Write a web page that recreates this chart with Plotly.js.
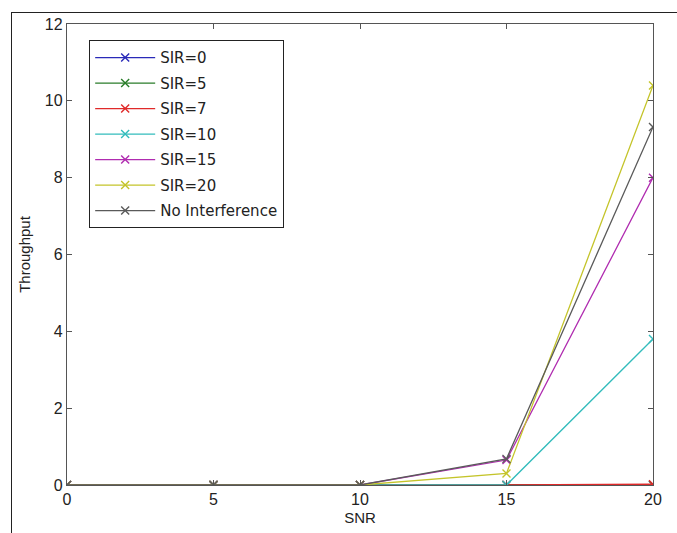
<!DOCTYPE html>
<html>
<head>
<meta charset="utf-8">
<script src="https://cdn.plot.ly/plotly-3.0.1.min.js"></script>
<style>
html,body{margin:0;padding:0;background:#fff;}
#wrap{position:relative;width:677px;height:533px;}
#frame{position:absolute;left:11px;top:12px;width:666px;height:521px;border-left:1.5px solid #222;border-top:1.5px solid #222;pointer-events:none;z-index:10;}
#chart{position:absolute;left:0;top:0;width:677px;height:533px;}
</style>
</head>
<body>
<div id="wrap">
<div id="chart"></div>
<div id="frame"></div>
</div>
<script>
const snr = [0, 5, 10, 15, 20];
const seriesNames = ["SIR=0", "SIR=5", "SIR=7", "SIR=10", "SIR=15", "SIR=20", "No Interference"];
const sir0 = [0, 0, 0, 0, 0];
const sir5 = [0, 0, 0, 0, 0];
const sir7 = [0, 0, 0, 0, 0.02];
const sir10 = [0, 0, 0, 0, 3.8];
const sir15 = [0, 0, 0, 0.65, 8.0];
const sir20 = [0, 0, 0, 0.3, 10.4];
const noInterference = [0, 0, 0, 0.68, 9.32];
const xTicks = [0, 5, 10, 15, 20];
const yTicks = [0, 2, 4, 6, 8, 10, 12];

const values = [sir0, sir5, sir7, sir10, sir15, sir20, noInterference];
const colors = ["#2a2ab8", "#2a7d2a", "#e02a2a", "#33bcbc", "#b02cb0", "#c4c42a", "#5a5a5a"];

const traces = values.map((v, i) => ({
  x: snr, y: v, name: seriesNames[i], type: "scatter", mode: "lines+markers",
  legendgroup: "g" + i,
  line: {color: colors[i], width: 1.3},
  marker: {symbol: "x-thin", size: 8, line: {color: colors[i], width: 1.4}, color: colors[i]}
}));

const tickFont = {family: "Liberation Sans, Arial, sans-serif", size: 16, color: "#222"};
const titleFont = {family: "Liberation Sans, Arial, sans-serif", size: 15, color: "#222"};
const layout = {
  width: 677, height: 533,
  margin: {l: 67, r: 24, t: 24, b: 48},
  paper_bgcolor: "#fff", plot_bgcolor: "#fff",
  showlegend: true,
  font: tickFont,
  xaxis: {
    range: [0, 20], tickvals: xTicks, ticktext: xTicks.map(String),
    ticks: "inside", ticklen: 5, tickcolor: "#555",
    showline: true, linecolor: "#555", linewidth: 1.2, mirror: "ticks",
    showgrid: false, zeroline: false, tickfont: tickFont,
    title: {text: "SNR", font: titleFont, standoff: 5}
  },
  yaxis: {
    range: [0, 12], tickvals: yTicks, ticktext: yTicks.map(String),
    ticks: "inside", ticklen: 5, tickcolor: "#555",
    showline: true, linecolor: "#555", linewidth: 1.2, mirror: "ticks",
    showgrid: false, zeroline: false, tickfont: tickFont,
    title: {text: "Throughput", font: titleFont, standoff: 10}
  },
  legend: {
    x: 0.0375, y: 0.965, xanchor: "left", yanchor: "top",
    bgcolor: "#fff", bordercolor: "#222", borderwidth: 1.2,
    font: {family: "DejaVu Sans, sans-serif", size: 15, color: "#222"},
    traceorder: "grouped", tracegroupgap: 3, itemwidth: 60
  }
};
Plotly.newPlot("chart", traces, layout, {displayModeBar: false, staticPlot: true});
</script>
</body>
</html>
